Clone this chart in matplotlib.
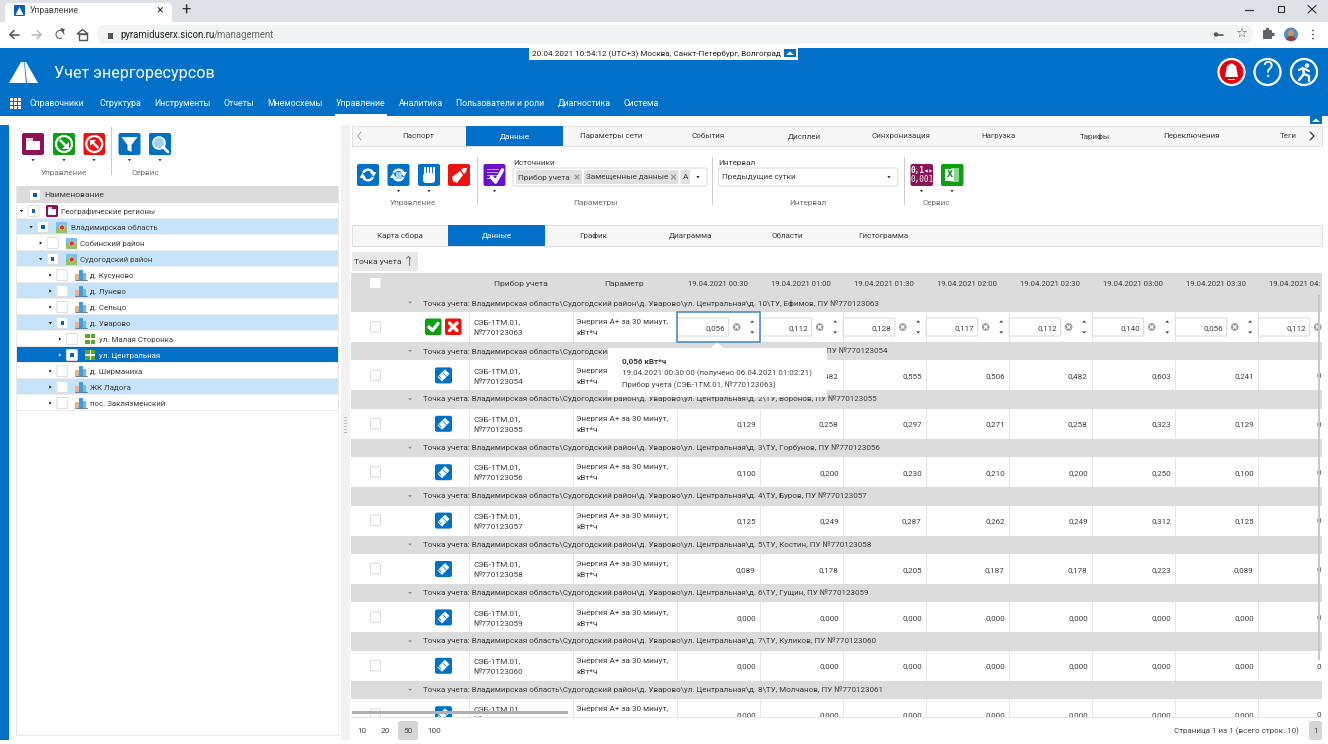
import matplotlib
matplotlib.use('Agg')
import matplotlib.pyplot as plt
from matplotlib.patches import Rectangle, FancyBboxPatch, Circle, Polygon, Wedge

plt.rcParams['font.family'] = ['Roboto', 'DejaVu Sans']

# Data
nav_items = ['Справочники', 'Структура', 'Инструменты', 'Отчеты', 'Мнемосхемы', 'Управление',
             'Аналитика', 'Пользователи и роли', 'Диагностика', 'Система']
nav_x = [30, 99, 154, 223, 267, 336, 399, 456, 558, 624]
top_tabs = ['Паспорт', 'Данные', 'Параметры сети', 'События', 'Дисплеи', 'Синхронизация',
            'Нагрузка', 'Тарифы', 'Переключения', 'Теги']
sub_tabs = ['Карта сбора', 'Данные', 'График', 'Диаграмма', 'Области', 'Гистограмма']
tree_names = ['Географические регионы', 'Владимирская область', 'Собинский район', 'Судогодский район',
              'д. Кусуново', 'д. Лунево', 'д. Сельцо', 'д. Уварово', 'ул. Малая Сторонка',
              'ул. Центральная', 'д. Ширманиха', 'ЖК Ладога', 'пос. Заклязменский']
tree_depth = [0, 1, 2, 2, 3, 3, 3, 3, 4, 4, 3, 3, 3]
tree_open = [1, 1, 0, 1, 0, 0, 0, 1, 0, 0, 0, 0, 0]
tree_checked = [1, 1, 0, 1, 0, 0, 0, 1, 0, 1, 0, 0, 0]
tree_band = [0, 1, 0, 1, 0, 1, 0, 1, 0, 2, 0, 1, 0]
tree_icon = ['folder', 'map', 'map', 'map', 'bld', 'bld', 'bld', 'bld', 'street', 'street', 'bld', 'bld', 'bld']
time_cols = ['19.04.2021 00:30', '19.04.2021 01:00', '19.04.2021 01:30', '19.04.2021 02:00',
             '19.04.2021 02:30', '19.04.2021 03:00', '19.04.2021 03:30']
time_cut = '19.04.2021 04:'
house = ['10', '', '2', '3', '4', '5', '6', '7', '8']
owner = ['Ефимов', '', 'Воронов', 'Горбунов', 'Буров', 'Костин', 'Гущин', 'Куликов', 'Молчанов']
meter = ['770123063', '770123054', '770123055', '770123056', '770123057', '770123058', '770123059',
         '770123060', '770123061']
row0 = ['0,056', '0,112', '0,128', '0,117', '0,112', '0,140', '0,056', '0,112']
row1 = ['', '0,482', '0,555', '0,506', '0,482', '0,603', '0,241', '0']
row2 = ['0,129', '0,258', '0,297', '0,271', '0,258', '0,323', '0,129', '0']
row3 = ['0,100', '0,200', '0,230', '0,210', '0,200', '0,250', '0,100', '0']
row4 = ['0,125', '0,249', '0,287', '0,262', '0,249', '0,312', '0,125', '0']
row5 = ['0,089', '0,178', '0,205', '0,187', '0,178', '0,223', '0,089', '0']
row6 = ['0,000'] * 7 + ['0']
row7 = ['0,000'] * 7 + ['0']
row8 = ['0,000'] * 7 + ['0']
rows = [row0, row1, row2, row3, row4, row5, row6, row7, row8]

BLUE = '#0070c8'
GRAY = '#dcdcdc'
LINE = '#e4e4e4'
TXT = '#3c3c3c'
LBL = '#707070'
FS = 5.9

fig = plt.figure(figsize=(13.28, 7.44), dpi=100)
ax = fig.add_axes([0, 0, 1, 1])
ax.set_xlim(0, 1328)
ax.set_ylim(744, 0)
ax.axis('off')


def rect(x0, y0, x1, y1, fc, ec='none', lw=0.8, z=1):
    p = Rectangle((x0, y0), x1 - x0, y1 - y0, fc=fc, ec=ec, lw=lw, zorder=z)
    ax.add_patch(p)
    return p


def rrect(x0, y0, x1, y1, fc, ec='none', lw=0.8, r=2, z=2):
    p = FancyBboxPatch((x0 + r, y0 + r), x1 - x0 - 2 * r, y1 - y0 - 2 * r,
                       boxstyle='round,pad=%s,rounding_size=%s' % (r, r),
                       fc=fc, ec=ec, lw=lw, zorder=z)
    ax.add_patch(p)
    return p


def txt(x, y, s, size=FS, c=TXT, ha='left', z=6, **kw):
    return ax.text(x, y + 0.8, s, fontsize=size, color=c, ha=ha, va='center', zorder=z, **kw)


def poly(pts, fc='white', z=3, ec='none', lw=0.8):
    p = Polygon(pts, closed=True, fc=fc, ec=ec, lw=lw, zorder=z)
    ax.add_patch(p)
    return p


def line(xs, ys, c='white', lw=1.2, z=3):
    ax.plot(xs, ys, color=c, lw=lw, zorder=z, solid_capstyle='round')


def caret(x, y, down=True, c='#333333', s=2.2, z=7):
    if down:
        poly([(x - s, y - s * 0.6), (x + s, y - s * 0.6), (x, y + s * 0.8)], fc=c, z=z)
    else:
        poly([(x - s * 0.6, y - s), (x + s * 0.8, y), (x - s * 0.6, y + s)], fc=c, z=z)


def checkbox(cx, cy, on, size=5.5, z=5):
    rrect(cx - size, cy - size, cx + size, cy + size, 'white', '#dddddd', 0.7, r=1.2, z=z)
    if on:
        rect(cx - 1.7, cy - 1.7, cx + 1.7, cy + 1.7, '#0a62b0', z=z + 1)


def icon_base(x0, y0, x1, y1, c):
    rrect(x0, y0, x1, y1, c, r=2, z=3)
    return (x0 + x1) / 2, (y0 + y1) / 2


def ring_arrows(cx, cy, r=6.5):
    ax.add_patch(Wedge((cx, cy), r, 25, 165, width=2.4, fc='white', zorder=4))
    ax.add_patch(Wedge((cx, cy), r, 205, 345, width=2.4, fc='white', zorder=4))
    poly([(cx + r + 2, cy - 3), (cx + r - 4.5, cy - 3), (cx + r - 1, cy + 2)], z=4)
    poly([(cx - r - 2, cy + 3), (cx - r + 4.5, cy + 3), (cx - r + 1, cy - 2)], z=4)


def pencil(cx, cy):
    poly([(cx - 6, cy + 1.5), (cx + 1.5, cy - 6), (cx + 6, cy - 1.5), (cx - 1.5, cy + 6)], z=4)
    line([cx - 2.5, cx - 5], [cy + 3, cy + 0.5], c='#0070c8', lw=0.6, z=5)
    line([cx - 0.5, cx + 3], [cy - 2.5, cy + 1], c='#0070c8', lw=0.5, z=5)


def tree_icon_draw(kind, cx, cy):
    if kind == 'folder':
        rrect(cx - 6, cy - 6, cx + 6, cy + 6, '#8d1257', r=1.5, z=4)
        rect(cx - 4, cy - 2.5, cx + 4, cy + 3.5, 'white', z=5)
        rect(cx - 4, cy - 4, cx, cy - 2, '#e9cfdf', z=5)
    elif kind == 'map':
        rect(cx - 5.5, cy - 5.5, cx + 5.5, cy, '#7cc0ee', z=4)
        rect(cx - 5.5, cy, cx + 5.5, cy + 5.5, '#8fbf6a', z=4)
        ax.add_patch(Circle((cx + 0.5, cy + 0.5), 2.6, fc='#d8342c', ec='#f2d07a', lw=0.6, zorder=5))
    elif kind == 'bld':
        rect(cx - 5.5, cy - 1, cx - 2, cy + 5, '#e8b48a', z=4)
        rect(cx - 1.5, cy - 5, cx + 2, cy + 5, '#3f9ddd', z=4)
        rect(cx + 2.5, cy - 2.5, cx + 5.5, cy + 5, '#6cb6e8', z=4)
        line([cx - 6, cx + 6], [cy + 5.2, cy + 5.2], c='#4a6f8a', lw=0.6, z=5)
    else:
        rect(cx - 5, cy - 5, cx + 5, cy + 5, '#5aa81e', z=4)
        rect(cx - 5, cy - 0.8, cx + 5, cy + 0.8, 'white', z=5)
        rect(cx - 0.8, cy - 5, cx + 0.8, cy + 5, 'white', z=5)


# Chrome
rect(0, 0, 1328, 22, '#dee1e6')
rect(0, 22, 1328, 48, 'white')
rrect(5, 3, 172, 26, 'white', r=5)
rrect(14, 5, 25, 16, '#0a5fb4', r=1, z=3)
poly([(15.5, 15), (19.5, 7), (23.5, 15)], z=4)
txt(30, 9.5, 'Управление', 6.2, '#444444')
txt(160, 9.5, '×', 9, '#333333', ha='center')
txt(186, 9.5, '+', 12, '#333333', ha='center')
line([1245, 1253], [9.5, 9.5], c='#333333', lw=0.9)
rect(1278, 6, 1284, 12, 'none', '#333333', 0.8, z=3)
line([1308, 1316], [5.5, 13], c='#333333', lw=0.8)
line([1308, 1316], [13, 5.5], c='#333333', lw=0.8)
rrect(97, 25, 1253, 44, '#f1f3f4', r=9)
line([10, 19], [34.5, 34.5], c='#555555', lw=1.1)
line([14, 10, 14], [30.5, 34.5, 38.5], c='#555555', lw=1.1)
line([32, 41], [34.5, 34.5], c='#b8b8b8', lw=1.1)
line([37, 41, 37], [30.5, 34.5, 38.5], c='#b8b8b8', lw=1.1)
ax.add_patch(Wedge((60, 34.5), 4.5, 60, 360, width=1, fc='#555555', zorder=4))
poly([(60, 28), (65, 29), (63, 33)], fc='#555555', z=4)
poly([(77, 34), (82.5, 29.5), (88, 34)], fc='none', ec='#555555', lw=1)
rect(78.5, 34, 86.5, 39.5, 'none', '#555555', 1, z=3)
rect(107.5, 33, 113, 38.5, '#555555', z=3)
url = txt(120, 34, 'pyramiduserx.sicon.ru', 6.9, '#222222')
url_end = ax.transData.inverted().transform(url.get_window_extent(fig.canvas.get_renderer()))[1][0]
txt(url_end, 34, '/management', 6.9, '#6a6a6a')
ax.add_patch(Circle((1216, 34.5), 2.2, fc='#555555', zorder=4))
line([1217, 1223], [34.5, 34.5], c='#555555', lw=1.2)
txt(1241, 33, '☆', 9.5, '#555555', ha='center', family='DejaVu Sans')
rrect(1263, 30, 1272, 39, '#5f6368', r=1, z=3)
ax.add_patch(Circle((1267.5, 29.5), 1.8, fc='#5f6368', zorder=3))
ax.add_patch(Circle((1273, 34.5), 1.8, fc='#5f6368', zorder=3))
ax.add_patch(Circle((1291, 34.5), 7, fc='#4f8fc4', zorder=3))
ax.add_patch(Circle((1291, 33), 3.2, fc='#c98e6a', zorder=4))
ax.add_patch(Wedge((1291, 41), 5, 195, 345, fc='#9c3b33', zorder=4))
for dy in [-4, 0, 4]:
    ax.add_patch(Circle((1313, 34.5 + dy), 0.9, fc='#555555', zorder=4))

# Blue header
rect(0, 48, 1328, 116, BLUE)
rect(529, 48, 798, 60, 'white', z=3)
txt(656, 53.5, '20.04.2021 10:54:12 (UTC+3) Москва, Санкт-Петербург, Волгоград', 5.9, '#222222', ha='center')
rect(784, 49, 796, 57, BLUE, z=4)
poly([(786, 55), (790, 51.5), (794, 55)], z=5)
poly([(9, 83), (21, 62), (24, 62), (26, 83)], z=3)
poly([(27, 83), (24.5, 62), (26, 62), (38, 83)], z=3)
txt(54, 72.5, 'Учет энергоресурсов', 11.6, 'white')
for i in range(3):
    for j in range(3):
        rect(10 + i * 4, 98 + j * 4, 13 + i * 4, 101 + j * 4, 'white', z=3)
for name, x in zip(nav_items, nav_x):
    txt(x, 102.5, name, 6.3, 'white')
rect(335, 114, 387, 116, 'white', z=3)
ax.add_patch(Circle((1231.5, 72), 13, fc='#e60012', ec='white', lw=1.6, zorder=3))
poly([(1225, 77), (1227, 66), (1231.5, 63), (1236, 66), (1238, 77)], z=4)
rect(1228, 78.5, 1235, 80, 'white', z=4)
ax.add_patch(Circle((1267.5, 72), 13, fc=BLUE, ec='white', lw=1.6, zorder=3))
txt(1267.5, 71, '?', 16, 'white', ha='center')
ax.add_patch(Circle((1304, 72), 13, fc=BLUE, ec='white', lw=1.6, zorder=3))
ax.add_patch(Circle((1307, 65.5), 2.2, fc='white', zorder=4))
line([1299, 1303, 1309], [70, 68, 71], lw=1.6, z=4)
line([1303, 1304, 1299], [68, 74, 80], lw=1.8, z=4)
line([1304, 1309, 1309], [74, 76, 81], lw=1.6, z=4)
rect(1310, 116, 1322, 124, BLUE)
poly([(1312, 122), (1316, 118.5), (1320, 122)], z=3)

# Left panel
rect(0, 125, 9, 740, BLUE)
rect(341, 125, 350, 740, '#f2f2f2')
for dy in range(-8, 9, 3):
    rect(344, 425 + dy, 347, 426 + dy, '#bbbbbb', z=2)
icon_base(22, 133, 44, 155, '#8d1257')
rect(26, 141, 40, 150, 'white', z=4)
rect(26, 138, 33, 141, '#e9cfdf', z=4)
cx, cy = icon_base(53, 133, 75, 155, '#0aa012')
ax.add_patch(Circle((cx, cy), 8, fc='none', ec='white', lw=1.6, zorder=4))
line([cx - 3.5, cx + 3], [cy - 3.5, cy + 3], lw=1.8, z=4)
poly([(cx + 4.5, cy - 2), (cx + 4.5, cy + 4.5), (cx - 2, cy + 4.5)], z=4)
cx, cy = icon_base(83.5, 133, 105, 155, '#f01010')
ax.add_patch(Circle((cx, cy), 8, fc='none', ec='white', lw=1.6, zorder=4))
line([cx - 3, cx + 3.5], [cy - 3, cy + 3.5], lw=1.8, z=4)
poly([(cx - 4.5, cy + 2), (cx - 4.5, cy - 4.5), (cx + 2, cy - 4.5)], z=4)
cx, cy = icon_base(118.5, 133, 140.5, 155, BLUE)
poly([(cx - 8, cy - 7), (cx + 8, cy - 7), (cx + 2, cy + 1), (cx + 2, cy + 8), (cx - 2, cy + 6), (cx - 2, cy + 1)], z=4)
cx, cy = icon_base(149, 133, 171, 155, BLUE)
ax.add_patch(Circle((cx - 1, cy - 1), 6, fc='#9fd0f2', ec='white', lw=1.2, zorder=4))
line([cx + 3, cx + 8], [cy + 3, cy + 8], lw=2, z=4)
for x in [33, 64, 94, 129.5, 160]:
    caret(x, 160, s=1.6)
rect(111, 127, 111.8, 175, '#cccccc')
txt(63.5, 172, 'Управление', FS, LBL, ha='center')
txt(145, 172, 'Сервис', FS, LBL, ha='center')

# Tree
rect(16, 186, 338, 735, 'white', '#e8e8e8', 0.8)
rect(16.5, 186, 338, 203, GRAY, z=2)
checkbox(35, 195, True, z=3)
txt(44, 194.5, 'Наименование', 6.1)
for i, name in enumerate(tree_names):
    y0 = 203 + 16 * i
    d = tree_depth[i]
    fc = ['white', '#c5e4fb', BLUE][tree_band[i]]
    rect(16.5, y0, 338, y0 + 15.2, fc, z=2)
    rect(16.5, y0 + 15.2, 338, y0 + 16, '#ececec', z=2)
    tc = 'white' if tree_band[i] == 2 else TXT
    ac = 'white' if tree_band[i] == 2 else '#222222'
    caret(21.5 + 9.6 * d, y0 + 8, down=bool(tree_open[i]), c=ac, s=1.7)
    checkbox(33.5 + 9.6 * d, y0 + 8, tree_checked[i])
    tree_icon_draw(tree_icon[i], 52 + 9.6 * d, y0 + 8)
    txt(61 + 9.6 * d, y0 + 8, name, 5.7, tc)

# Top tabs
rect(352, 126, 1322, 146, '#f7f7f7', '#e2e2e2', 0.8)
for i, name in enumerate(top_tabs):
    xc = 418 + 96.7 * i
    if i == 1:
        rect(466, 126, 563, 146, BLUE, z=2)
    txt(xc, 135.5, name, 5.8, 'white' if i == 1 else TXT, ha='center')
line([361, 358, 361], [132, 136, 140], c='#aaaaaa', lw=0.8)
line([1310, 1314, 1310], [132, 136, 140], c='#333333', lw=0.9)

# Toolbar
cx, cy = icon_base(357, 164, 379, 186, BLUE)
ring_arrows(cx, cy)
cx, cy = icon_base(387.5, 164, 409.5, 186, BLUE)
ring_arrows(cx, cy)
rect(cx - 3, cy - 3, cx + 3, cy + 4, '#9fd0f2', z=5)
cx, cy = icon_base(418, 164, 440, 186, BLUE)
rrect(cx - 6, cy - 2, cx + 6, cy + 8, 'white', r=3, z=4)
for dx in [-5, -2, 1, 4]:
    rect(cx + dx, cy - 8, cx + dx + 2, cy, 'white', z=4)
cx, cy = icon_base(448, 164, 470, 186, '#f01010')
poly([(cx + 2, cy - 5), (cx + 4, cy - 7), (cx + 8, cy - 7), (cx + 7, cy - 3), (cx + 5, cy - 1)], z=4)
poly([(cx - 7, cy + 2), (cx + 1, cy - 4), (cx + 4, cy), (cx - 2, cy + 8), (cx - 6, cy + 6)], z=4)
cx, cy = icon_base(483.5, 164, 505.5, 186, '#6a10c8')
for dy in [-6, -3, 0, 3]:
    rect(cx - 8, cy + dy, cx + 3 - dy * 0.3, cy + dy + 1.4, '#b9a0ef', z=4)
line([cx - 3, cx + 1, cx + 8], [cy + 2, cy + 7, cy - 5], lw=2.6, z=5)
cx, cy = icon_base(910.5, 164, 933, 186, '#8d1257')
txt(cx, cy - 5.5, '0,1◂▸', 5.6, 'white', ha='center', family='DejaVu Sans Mono', fontweight='bold')
txt(cx, cy + 3.5, '0,001', 5.6, 'white', ha='center', family='DejaVu Sans Mono')
cx, cy = icon_base(941, 164, 963.5, 186, '#0aa012')
rect(cx - 1, cy - 7, cx + 7, cy + 7, '#8ed08e', z=4)
rect(cx - 7, cy - 6, cx + 2, cy + 6, 'white', z=5)
txt(cx - 2.5, cy - 1, 'X', 6.8, '#0a8a12', ha='center', fontweight='bold')
for x in [398.5, 429, 494.5, 921.5, 952]:
    caret(x, 191, s=1.6)
for x in [477, 712, 904]:
    rect(x, 157, x + 0.8, 205, '#cccccc')
txt(513.5, 162.5, 'Источники', FS)
rrect(513, 168, 707, 186, 'white', '#dddddd', 0.8, r=2, z=2)
rrect(516, 170, 582, 184, '#e0e0e0', r=1, z=3)
txt(518, 176.5, 'Прибор учета', FS)
rrect(584, 170, 678.5, 184, '#e0e0e0', r=1, z=3)
txt(586, 176.5, 'Замещенные данные', FS)
for x in [577, 673.5]:
    line([x - 2, x + 2], [175, 179], c='#999999', lw=1)
    line([x - 2, x + 2], [179, 175], c='#999999', lw=1)
rrect(680.5, 170, 690, 184, '#e0e0e0', r=1, z=3)
txt(683, 176.5, 'А', FS)
caret(698, 177, s=1.7)
txt(718.5, 162.5, 'Интервал', FS)
rrect(718.5, 168, 898, 186, 'white', '#dddddd', 0.8, r=2, z=2)
txt(722.5, 176.5, 'Предыдущие сутки', FS)
caret(889, 177, s=1.7)
for label, x in zip(['Управление', 'Параметры', 'Интервал', 'Сервис'], [413, 595, 808, 936]):
    txt(x, 202, label, FS, LBL, ha='center')

# Sub tabs
rect(352, 225, 1322, 246, '#f7f7f7', '#e2e2e2', 0.8)
rect(448, 225, 545, 246, BLUE, z=2)
for i, name in enumerate(sub_tabs):
    txt(400 + 96.7 * i, 235, name, 5.8, 'white' if i == 1 else TXT, ha='center')

# Table
rect(351.5, 252, 418, 271, '#e8e8e8')
txt(354.5, 261.5, 'Точка учета', 6.1)
line([408.5, 408.5], [256.5, 265], c='#777777', lw=0.7)
line([406.5, 408.5, 410.5], [258.5, 256.5, 258.5], c='#777777', lw=0.7)

col_x = [676.7 + 83 * i for i in range(9)]
rect(351, 273, 1322, 717, 'white', z=0.5)
rect(351, 273, 1322, 294, GRAY, z=1)
rrect(370, 278, 380.5, 288, 'white', r=1, z=2)
txt(521, 283, 'Прибор учета', 6.1, ha='center')
txt(624.5, 283, 'Параметр', 6.1, ha='center')
for i, label in enumerate(time_cols):
    txt(col_x[i] + 41.5, 283, label, 5.55, ha='center')
txt(1269, 283, time_cut, 5.55)

for r, vals in enumerate(rows):
    y = 293.6 + 48.4 * r
    rect(351, y, 1322, y + 18.4, GRAY, z=1)
    poly([(408, y + 8), (412, y + 8), (410, y + 10)], fc='#888888', z=3)
    path = 'Точка учета: Владимирская область\\Судогодский район'
    if house[r]:
        txt(423, y + 8.5, path + '\\д. Уварово\\ул. Центральная\\д. %s\\ТУ, %s, ПУ №%s' % (house[r], owner[r], meter[r]), 5.75)
    else:
        # middle of this line is under the tooltip
        txt(423, y + 8.5, path, 5.75)
        txt(826, y + 8.5, 'ПУ №' + meter[r], 5.75)
    y1 = y + 18.4
    yc = y1 + 15
    for x in [400.5, 469, 573] + col_x[:-1]:
        rect(x, y1, x + 0.8, y1 + 30, LINE, z=1.5)
    rrect(370.5, yc - 5.5, 380.5, yc + 5, 'white', '#dddddd', 0.8, r=1.2, z=2)
    if r == 0:
        icon_base(425, yc - 8.5, 441.5, yc + 8, '#0aa012')
        line([429, 432.5, 438], [yc, yc + 3.5, yc - 3.5], lw=2.4, z=4)
        icon_base(445, yc - 8.5, 461.5, yc + 8, '#f01010')
        line([449.5, 457], [yc - 4, yc + 3.5], lw=2.4, z=4)
        line([449.5, 457], [yc + 3.5, yc - 4], lw=2.4, z=4)
    else:
        rrect(435, yc - 8, 452, yc + 8, BLUE, r=2, z=3)
        pencil(443.5, yc)
    txt(473, yc - 5.5, 'СЭБ-1ТМ.01,', FS)
    txt(473, yc + 5.5, '№' + meter[r], FS)
    txt(576.5, yc - 5.5, 'Энергия А+ за 30 минут,', FS)
    txt(576.5, yc + 5.5, 'кВт*ч', FS)
    for c, v in enumerate(vals):
        x0 = col_x[c]
        if r == 0:
            rrect(x0 + 0.5, yc - 9, x0 + 52, yc + 9, 'white', '#dddddd', 0.8, r=1, z=3)
            txt(x0 + 48.5, yc, v, 5.8, ha='right')
            ax.add_patch(Circle((x0 + 60, yc), 3.8, fc='#9a9a9a', zorder=3))
            line([x0 + 58.5, x0 + 61.5], [yc - 1.5, yc + 1.5], lw=0.9, z=4)
            line([x0 + 58.5, x0 + 61.5], [yc + 1.5, yc - 1.5], lw=0.9, z=4)
            if x0 + 75 < 1322:
                poly([(x0 + 73.5, yc - 4.5), (x0 + 75.5, yc - 6.5), (x0 + 77.5, yc - 4.5)], fc='#333333')
                poly([(x0 + 73.5, yc + 4.5), (x0 + 75.5, yc + 6.5), (x0 + 77.5, yc + 4.5)], fc='#333333')
        elif c < 7:
            txt(x0 + 79, yc, v, 5.8, ha='right')
        else:
            txt(1318.7, yc, v, 5.8, ha='center')

# Selected cell and tooltip
rect(677, 312, 760, 341.5, 'none', '#3c86c4', 1.1, z=6)
rect(608, 348, 827, 397, 'white', z=8)
poly([(711, 348), (717, 342), (723, 348)], z=8)
txt(622, 361, '0,056 кВт*ч', 5.8, '#333333', z=9, fontweight='bold')
txt(622, 372.5, '19.04.2021 00:30:00 (получено 06.04.2021 01:02:21)', 5.7, '#444444', z=9)
txt(622, 384, 'Прибор учета (СЭБ-1ТМ.01, №770123063)', 5.7, '#444444', z=9)

# Scrollbars and covers
rect(1322, 273, 1328, 717, 'white', z=7)
rect(1317.8, 295, 1320, 660, '#c8c8c8', z=7)
rect(352, 711, 568, 713.5, '#b0b0b0', z=7)

# Pager
rect(351, 717, 1322, 744, 'white', z=7)
rect(351, 717, 1322, 718, '#e4e4e4', z=7)
rrect(398, 721, 418, 740, '#d6d6d6', r=2, z=8)
for label, x in zip(['10', '20', '50', '100'], [362, 385.5, 408, 434.5]):
    txt(x, 730.5, label, FS, '#444444', ha='center', z=9)
txt(1299, 730.5, 'Страница 1 из 1 (всего строк: 10)', 5.8, '#444444', ha='right', z=9)
rrect(1309, 721, 1322, 740, '#d6d6d6', r=2, z=8)
txt(1315.5, 730.5, '1', FS, '#444444', ha='center', z=9)

fig.savefig('out.png', dpi=100)
